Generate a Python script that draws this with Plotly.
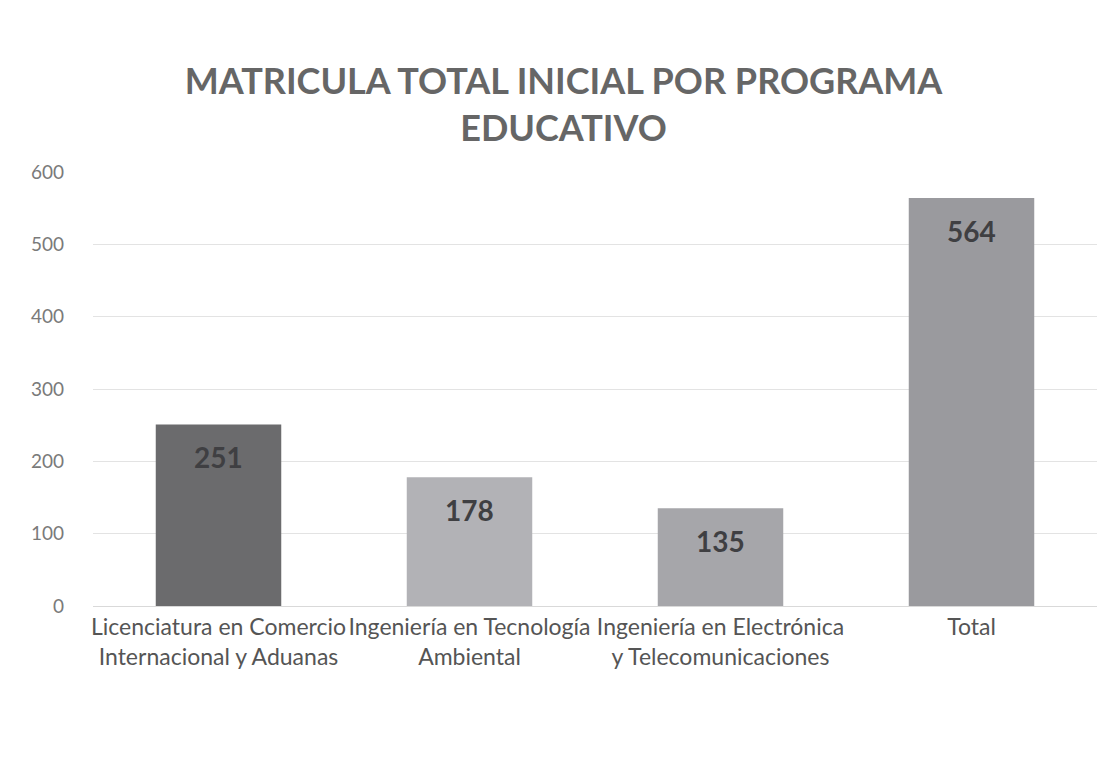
import plotly.graph_objects as go

# data
programas = [
    "Licenciatura en Comercio<br>Internacional y Aduanas",
    "Ingeniería en Tecnología<br>Ambiental",
    "Ingeniería en Electrónica<br>y Telecomunicaciones",
    "Total",
]
matricula = [251, 178, 135, 564]
colores = ["#6b6b6d", "#b2b2b6", "#a6a6aa", "#9a9a9e"]

FONT = "Lato, 'Open Sans', sans-serif"

fig = go.Figure(
    go.Bar(
        x=programas,
        y=matricula,
        marker=dict(color=colores, line=dict(width=0)),
        hoverinfo="x+y",
    )
)

# value labels sit inside the bar, a little below its top
for prog, val in zip(programas, matricula):
    fig.add_annotation(
        x=prog,
        y=val,
        yshift=-33,
        text=f"<b>{val}</b>",
        showarrow=False,
        font=dict(family=FONT, size=28, color="#3f3f42"),
    )

fig.update_layout(
    width=1111,
    height=771,
    margin=dict(l=85, r=22, t=164, b=173),
    paper_bgcolor="white",
    plot_bgcolor="white",
    bargap=0.5,
    showlegend=False,
    font=dict(family=FONT, color="#595959"),
    title=dict(
        text="<b>MATRICULA TOTAL INICIAL POR PROGRAMA<br>EDUCATIVO</b>",
        x=0.5,
        xanchor="center",
        yref="container",
        y=1 - 86 / 771,
        yanchor="top",
        font=dict(family=FONT, size=36, color="#666666"),
    ),
    xaxis=dict(
        showgrid=False,
        showline=True,
        linecolor="#d9d9d9",
        linewidth=1,
        tickfont=dict(family=FONT, size=23, color="#555555"),
        ticks="",
    ),
    yaxis=dict(
        range=[0, 600],
        dtick=100,
        showgrid=True,
        gridcolor="#e3e3e3",
        gridwidth=1,
        zeroline=False,
        showline=False,
        ticks="",
        ticklabelstandoff=28,
        tickfont=dict(family=FONT, size=19, color="#7a7a7a"),
    ),
)

fig.write_html("out.html")
